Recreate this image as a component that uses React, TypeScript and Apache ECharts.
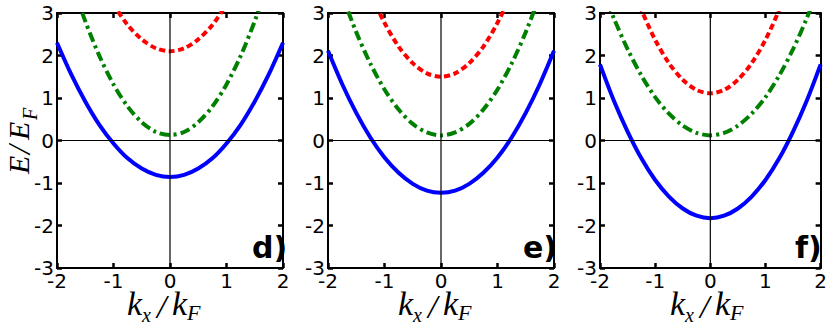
import React, { useEffect, useRef } from "react";
import * as echarts from "echarts";

// k_x / k_F sample positions
const kValues = [-2, -1.75, -1.5, -1.25, -1, -0.75, -0.5, -0.25, 0, 0.25, 0.5, 0.75, 1, 1.25, 1.5, 1.75, 2];

// Panel d)
const blueD = [2.30, 1.56, 0.92, 0.37, -0.07, -0.42, -0.66, -0.81, -0.86, -0.81, -0.66, -0.42, -0.07, 0.37, 0.92, 1.56, 2.30];
const greenD = [4.89, 3.77, 2.81, 1.99, 1.32, 0.80, 0.43, 0.20, 0.13, 0.20, 0.43, 0.80, 1.32, 1.99, 2.81, 3.77, 4.89];
const redD = [6.54, 5.50, 4.60, 3.83, 3.21, 2.72, 2.38, 2.17, 2.10, 2.17, 2.38, 2.72, 3.21, 3.83, 4.60, 5.50, 6.54];

// Panel e)
const blueE = [2.11, 1.33, 0.65, 0.07, -0.40, -0.76, -1.02, -1.18, -1.23, -1.18, -1.02, -0.76, -0.40, 0.07, 0.65, 1.33, 2.11];
const greenE = [4.44, 3.43, 2.55, 1.81, 1.20, 0.73, 0.39, 0.19, 0.12, 0.19, 0.39, 0.73, 1.20, 1.81, 2.55, 3.43, 4.44];
const redE = [6.58, 5.39, 4.36, 3.48, 2.77, 2.21, 1.82, 1.58, 1.50, 1.58, 1.82, 2.21, 2.77, 3.48, 4.36, 5.39, 6.58];

// Panel f)
const blueF = [1.79, 0.94, 0.21, -0.42, -0.93, -1.32, -1.60, -1.77, -1.83, -1.77, -1.60, -1.32, -0.93, -0.42, 0.21, 0.94, 1.79];
const greenF = [3.72, 2.88, 2.15, 1.53, 1.02, 0.63, 0.35, 0.18, 0.12, 0.18, 0.35, 0.63, 1.02, 1.53, 2.15, 2.88, 3.72];
const redF = [6.15, 4.97, 3.95, 3.08, 2.37, 1.82, 1.43, 1.19, 1.11, 1.19, 1.43, 1.82, 2.37, 3.08, 3.95, 4.97, 6.15];

const panelLabels = ["d)", "e)", "f)"];
const panels = [
  { blue: blueD, green: greenD, red: redD },
  { blue: blueE, green: greenE, red: redE },
  { blue: blueF, green: greenF, red: redF },
];

const xMin = -2, xMax = 2, yMin = -3, yMax = 3;

const gridLefts = [57, 328, 600];
const gridWidth = 226;
const gridTop = 13;
const gridHeight = 255;

const BLUE = "#0000ff";
const GREEN = "#008000";
const RED = "#ff0000";

const pair = (ys: number[]) => kValues.map((k, i) => [k, ys[i]]);

function txt(x: number, y: number, text: string, size: number, opts: any = {}) {
  return {
    type: "text",
    x,
    y,
    silent: true,
    style: {
      text,
      fontFamily: opts.family || "Liberation Serif",
      fontSize: size,
      fontStyle: opts.style || "italic",
      fontWeight: opts.weight || "normal",
      fill: "#000",
      align: opts.align || "left",
      verticalAlign: "middle",
      textAlign: opts.align || "left",
      textVerticalAlign: "middle",
    },
  };
}

export default function App() {
  const ref = useRef<HTMLDivElement>(null);
  useEffect(() => {
    if (!ref.current) return;
    const chart = echarts.init(ref.current, null, { renderer: "svg" });

    const grid: any[] = [];
    const xAxis: any[] = [];
    const yAxis: any[] = [];
    const series: any[] = [];
    const graphic: any[] = [];

    const axisLine = { show: true, onZero: false, lineStyle: { color: "#000", width: 2 } };
    const axisTick = { show: true, inside: true, length: 5, lineStyle: { color: "#000", width: 2.5 } };
    const labelStyle = { color: "#000", fontFamily: "DejaVu Sans", fontSize: 20 };

    panels.forEach((p, i) => {
      const left = gridLefts[i];
      grid.push({ left, top: gridTop, width: gridWidth, height: gridHeight, containLabel: false });
      xAxis.push({
        type: "value", gridIndex: i, min: xMin, max: xMax, interval: 1, position: "bottom",
        axisLine, axisTick, splitLine: { show: false },
        axisLabel: { ...labelStyle, margin: 3 },
      });
      xAxis.push({
        type: "value", gridIndex: i, min: xMin, max: xMax, interval: 1, position: "top",
        axisLine, axisTick, splitLine: { show: false }, axisLabel: { show: false },
      });
      yAxis.push({
        type: "value", gridIndex: i, min: yMin, max: yMax, interval: 1, position: "left",
        axisLine, axisTick, splitLine: { show: false },
        axisLabel: { ...labelStyle, margin: 3 },
      });
      yAxis.push({
        type: "value", gridIndex: i, min: yMin, max: yMax, interval: 1, position: "right",
        axisLine, axisTick, splitLine: { show: false }, axisLabel: { show: false },
      });

      const xi = 2 * i, yi = 2 * i;
      series.push({
        type: "line", xAxisIndex: xi, yAxisIndex: yi, data: pair(p.blue), smooth: 0.3,
        showSymbol: false, clip: true,
        lineStyle: { color: BLUE, width: 4 },
      });
      series.push({
        type: "line", xAxisIndex: xi, yAxisIndex: yi, data: pair(p.green), smooth: 0.3,
        showSymbol: false, clip: true,
        lineStyle: { color: GREEN, width: 4, type: [10, 4, 3, 4], cap: "butt" },
      });
      series.push({
        type: "line", xAxisIndex: xi, yAxisIndex: yi, data: pair(p.red), smooth: 0.3,
        showSymbol: false, clip: true,
        lineStyle: { color: RED, width: 4, type: [6, 3.5], cap: "butt" },
      });
      // zero lines
      series.push({
        type: "line", xAxisIndex: xi, yAxisIndex: yi, data: [[xMin, 0], [xMax, 0]],
        showSymbol: false, silent: true, lineStyle: { color: "#000", width: 1.2 },
      });
      series.push({
        type: "line", xAxisIndex: xi, yAxisIndex: yi, data: [[0, yMin], [0, yMax]],
        showSymbol: false, silent: true, lineStyle: { color: "#000", width: 1.2 },
      });

      // x axis name k_x / k_F
      const x0 = left + gridWidth / 2 - 43;
      graphic.push(txt(x0, 303, "k", 34));
      graphic.push(txt(x0 + 15, 315, "x", 20));
      graphic.push(txt(x0 + 30, 306, "/", 34));
      graphic.push(txt(x0 + 45, 303, "k", 34));
      graphic.push(txt(x0 + 60, 312, "F", 22));

      // panel label
      graphic.push(
        txt(left + 195, 247, panelLabels[i], 30, { family: "DejaVu Sans", style: "normal", weight: "bold" })
      );
    });

    // y axis name E / E_F (rotated)
    graphic.push({
      type: "group",
      x: 27,
      y: 174,
      rotation: Math.PI / 2,
      silent: true,
      children: [
        txt(0, -9, "E", 30),
        txt(20, -8, "/", 32),
        txt(34, -9, "E", 30),
        txt(54, 3, "F", 20),
      ],
    });

    chart.setOption({
      animation: false,
      backgroundColor: "#fff",
      grid,
      xAxis,
      yAxis,
      series,
      graphic,
    });
    return () => chart.dispose();
  }, []);
  return <div ref={ref} style={{ position: "fixed", left: 0, top: 0, width: 830, height: 327 }} />;
}
